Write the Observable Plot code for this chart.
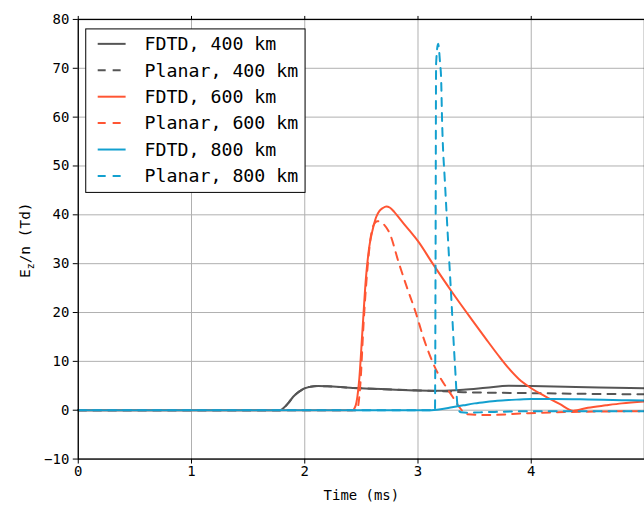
<!DOCTYPE html>
<html>
<head>
<meta charset="utf-8">
<script src="https://cdn.jsdelivr.net/npm/d3@7"></script>
<script src="https://cdn.jsdelivr.net/npm/@observablehq/plot@0.6"></script>
<style>
html, body { margin: 0; padding: 0; overflow: hidden; background: #fff; }
</style>
</head>
<body>
<div id="chart"></div>
<script>
// ---- tick labels ----
const xTicks = [0, 1, 2, 3, 4];
const yTicks = [-10, 0, 10, 20, 30, 40, 50, 60, 70, 80];

// ---- series names / colours ----
const seriesNames = ["FDTD, 400 km", "Planar, 400 km", "FDTD, 600 km", "Planar, 600 km", "FDTD, 800 km", "Planar, 800 km"];
const seriesColors = ["#555555", "#555555", "#ff5533", "#ff5533", "#13a0cf", "#13a0cf"];
const seriesDashed = [false, true, false, true, false, true];

// ---- series values (time in ms, E_z/n in Td) ----
const fdtd400T = [0, 1.78, 1.82, 1.86, 1.90, 1.95, 2.0, 2.05, 2.12, 2.2, 2.4, 2.6, 2.8, 3.0, 3.2, 3.4, 3.6, 3.8, 4.0, 4.3, 4.6, 5.0];
const fdtd400V = [0, 0, 0.6, 1.6, 2.8, 3.8, 4.5, 4.8, 4.95, 4.9, 4.6, 4.4, 4.2, 4.05, 4.0, 4.2, 4.6, 5.0, 4.95, 4.8, 4.65, 4.5];

const planar400T = [0, 1.78, 1.82, 1.86, 1.90, 1.95, 2.0, 2.05, 2.12, 2.2, 2.4, 2.6, 2.8, 3.0, 3.2, 3.4, 3.6, 4.0, 4.5, 5.0];
const planar400V = [0, 0, 0.6, 1.6, 2.8, 3.8, 4.5, 4.8, 4.95, 4.9, 4.6, 4.4, 4.2, 4.05, 3.9, 3.7, 3.6, 3.5, 3.35, 3.25];

const fdtd600T = [0, 2.42, 2.45, 2.48, 2.51, 2.54, 2.57, 2.60, 2.63, 2.66, 2.69, 2.72, 2.75, 2.79, 2.835, 2.92, 3.0, 3.13, 3.3, 3.48, 3.6, 3.71, 3.8, 3.89, 4.0, 4.12, 4.25, 4.37, 4.5, 4.66, 4.8, 5.0];
const fdtd600V = [0, 0, 1, 6, 16.5, 27, 33.5, 37, 39.5, 40.8, 41.4, 41.7, 41.5, 40.6, 39.3, 36.9, 34.6, 30.0, 24.2, 18.4, 14.6, 11.2, 8.6, 6.4, 4.5, 2.9, 1.3, -0.1, 0.5, 1.0, 1.4, 1.8];

const planar600T = [0, 2.46, 2.49, 2.52, 2.55, 2.58, 2.61, 2.64, 2.66, 2.70, 2.75, 2.83, 2.9, 2.98, 3.05, 3.13, 3.2, 3.25, 3.31, 3.36, 3.43, 3.6, 3.98, 4.48, 5.0];
const planar600V = [0, 0, 5, 18, 28, 35, 38, 38.7, 38.6, 38, 36.2, 30.2, 25.3, 20, 14.7, 9.8, 6.5, 4.7, 2.6, 0.8, -0.8, -1.0, -0.6, -0.3, -0.2];

const fdtd800T = [0, 3.1, 3.2, 3.3, 3.4, 3.5, 3.6, 3.7, 3.8, 3.9, 4.0, 4.2, 4.5, 4.8, 5.0];
const fdtd800V = [0, 0, 0.2, 0.6, 1.0, 1.4, 1.7, 1.95, 2.1, 2.2, 2.3, 2.3, 2.2, 2.05, 2.0];

const planar800T = [0, 3.15, 3.155, 3.16, 3.178, 3.195, 3.204, 3.213, 3.217, 3.237, 3.265, 3.29, 3.325, 3.354, 3.38, 3.45, 3.6, 4.0, 5.0];
const planar800V = [0, 0, 30, 71, 75, 71, 68, 59, 56, 47, 35, 24.7, 9.8, 0.2, -0.4, -0.5, -0.4, -0.2, -0.2];

const seriesT = [fdtd400T, planar400T, fdtd600T, planar600T, fdtd800T, planar800T];
const seriesV = [fdtd400V, planar400V, fdtd600V, planar600V, fdtd800V, planar800V];

const lineMarks = seriesNames.map((name, k) =>
  Plot.line(seriesT[k].map((t, i) => ({t, v: seriesV[k][i]})), {
    x: "t", y: "v",
    stroke: seriesColors[k],
    strokeWidth: 2,
    strokeDasharray: seriesDashed[k] ? "8,7" : null,
    curve: "monotone-x"
  })
);

const chart = Plot.plot({
  width: 646,
  height: 506,
  marginLeft: 78,
  marginRight: 0,
  marginTop: 19,
  marginBottom: 46,
  style: {fontFamily: "'DejaVu Sans Mono', monospace", fontSize: "14px", color: "black", background: "white"},
  x: {domain: [0, 5]},
  y: {domain: [-10, 80]},
  marks: [
    Plot.gridX(xTicks, {stroke: "#b0b0b0", strokeOpacity: 1, strokeWidth: 1}),
    Plot.gridY(yTicks, {stroke: "#b0b0b0", strokeOpacity: 1, strokeWidth: 1}),
    ...lineMarks,
    Plot.frame({stroke: "black", strokeWidth: 1.3}),
    Plot.axisX({ticks: xTicks, tickFormat: d3.format("d"), tickSize: 5, tickPadding: 2, label: "Time (ms)", labelArrow: false, labelAnchor: "center", labelOffset: 41, stroke: "black", fill: "black"}),
    Plot.axisX({anchor: "top", ticks: xTicks, tickSize: 4, fill: "none", stroke: "black"}),
    Plot.axisY({ticks: yTicks, tickSize: 5, tickPadding: 4, label: null, stroke: "black", fill: "black"})
  ]
});

document.getElementById("chart").appendChild(chart);

const svg = d3.select(chart);

// y-axis label with subscript
const ylab = svg.append("text")
  .attr("transform", "translate(30,241) rotate(-90)")
  .attr("text-anchor", "middle")
  .attr("font-family", "'DejaVu Sans Mono', monospace")
  .attr("font-size", 14.5)
  .attr("fill", "black");
ylab.append("tspan").text("E");
ylab.append("tspan").attr("dy", 4).attr("font-size", 10).text("z");
ylab.append("tspan").attr("dy", -4).text("/n (Td)");

// legend
const lg = svg.append("g").attr("transform", "translate(86,29)");
lg.append("rect").attr("x", 0).attr("y", 0).attr("width", 220).attr("height", 164)
  .attr("fill", "white").attr("stroke", "black").attr("stroke-width", 1);
seriesNames.forEach((name, k) => {
  const yy = 15 + k * 26.5;
  lg.append("line").attr("x1", 12).attr("x2", 40).attr("y1", yy).attr("y2", yy)
    .attr("stroke", seriesColors[k]).attr("stroke-width", 2)
    .attr("stroke-dasharray", seriesDashed[k] ? "8,7" : null);
  lg.append("text").attr("x", 59).attr("y", yy).attr("dy", "0.35em")
    .attr("text-anchor", "start")
    .attr("font-family", "'DejaVu Sans Mono', monospace").attr("font-size", 18.3)
    .attr("fill", "black").text(name);
});
</script>
</body>
</html>
